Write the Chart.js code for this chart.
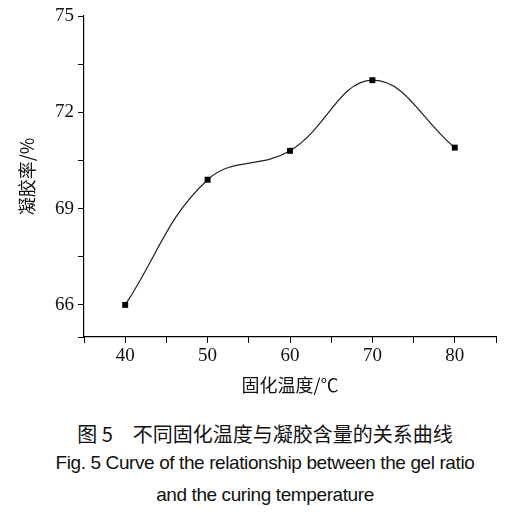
<!DOCTYPE html>
<html>
<head>
<meta charset="utf-8">
<script src="https://cdn.jsdelivr.net/npm/chart.js@4/dist/chart.umd.min.js"></script>
<style>
  body { margin: 0; background: #fff; width: 530px; height: 513px; overflow: hidden; }
  #wrap { position: relative; width: 530px; height: 400px; }
  .cap { position: absolute; left: 0; width: 530px; text-align: center; color: #111; }
  #c1 { top: 419px; font: 20px "Noto Sans CJK SC", sans-serif; }
  #c2 { top: 452px; font: 19px "Liberation Sans", Arial, sans-serif; letter-spacing: -0.4px; }
  #c3 { top: 484px; font: 19px "Liberation Sans", Arial, sans-serif; letter-spacing: -0.4px; }
</style>
</head>
<body>
<div id="wrap"><canvas id="chart" width="530" height="400"></canvas></div>
<div class="cap" id="c1">图 5　不同固化温度与凝胶含量的关系曲线</div>
<div class="cap" id="c2">Fig. 5 Curve of the relationship between the gel ratio</div>
<div class="cap" id="c3">and the curing temperature</div>
<script>
// data
const temps = [40, 50, 60, 70, 80];
const gelRatio = [66.0, 69.9, 70.8, 73.0, 70.9];
const yTicks = [65, 66, 67.5, 69, 70.5, 72, 73.5, 75];
const yLabels = [66, 69, 72, 75];

const serif = '"Liberation Serif", "Times New Roman", serif';
const cjk = '"Noto Sans CJK SC", sans-serif';

new Chart(document.getElementById('chart'), {
    type: 'line',
    data: {
        datasets: [{
            data: temps.map((t, i) => ({ x: t, y: gelRatio[i] })),
            borderColor: '#222',
            borderWidth: 1.2,
            backgroundColor: '#000',
            pointStyle: 'rect',
            pointRadius: 4.2,
            pointBorderWidth: 0,
            tension: 0.4,
            fill: false
        }]
    },
    options: {
        responsive: false,
        animation: false,
        layout: { padding: { left: 0, top: 16, right: 34, bottom: 0 } },
        plugins: { legend: { display: false }, tooltip: { enabled: false } },
        scales: {
            x: {
                type: 'linear',
                min: 35, max: 85,
                afterFit: (s) => { s.height = 63; },
                border: { color: '#000', width: 1.2 },
                grid: { drawOnChartArea: false, tickLength: 6, color: '#000' },
                ticks: {
                    stepSize: 5,
                    color: '#111',
                    font: { family: serif, size: 19 },
                    padding: 2,
                    callback: (v) => (v % 10 === 0 && v >= 40 && v <= 80) ? v : ''
                },
                title: {
                    display: true, text: '固化温度/℃', color: '#111',
                    font: { family: cjk, size: 18 }, padding: { top: 0 }
                }
            },
            y: {
                min: 65, max: 75,
                afterFit: (s) => { s.width = 84; },
                afterBuildTicks: (s) => { s.ticks = yTicks.map(v => ({ value: v })); },
                border: { color: '#000', width: 1.2 },
                grid: { drawOnChartArea: false, tickLength: 6, color: '#000' },
                ticks: {
                    color: '#111',
                    font: { family: serif, size: 19 },
                    padding: 4,
                    callback: (v) => yLabels.includes(v) ? v : ''
                },
                title: {
                    display: true, text: '凝胶率/%', color: '#111',
                    font: { family: cjk, size: 18 }, padding: { top: 16, bottom: 2 }
                }
            }
        }
    }
});
</script>
</body>
</html>
